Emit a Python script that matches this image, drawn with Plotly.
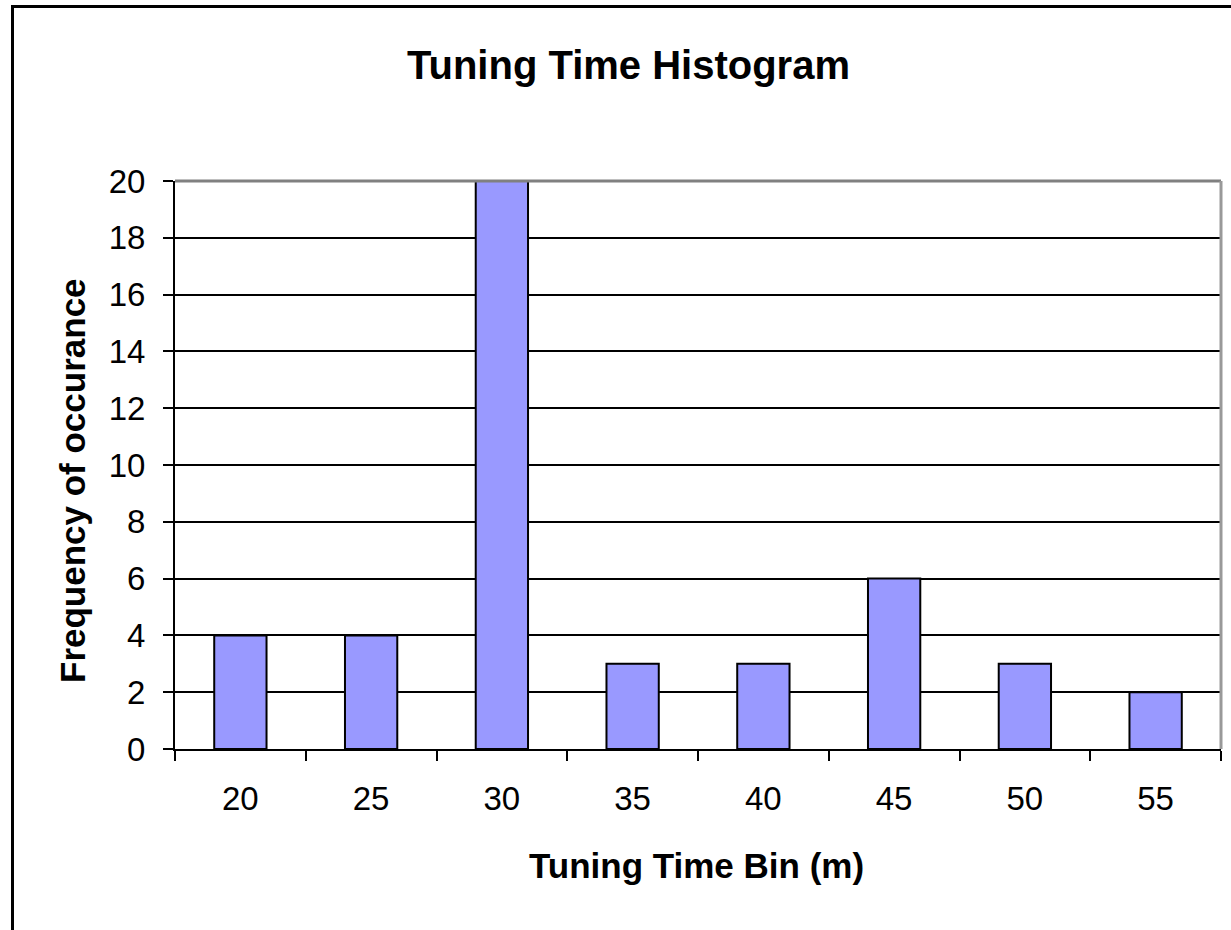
import plotly.graph_objects as go

bins = ["20", "25", "30", "35", "40", "45", "50", "55"]
freq = [4, 4, 20, 3, 3, 6, 3, 2]
y_ticks = [0, 2, 4, 6, 8, 10, 12, 14, 16, 18, 20]

W, H = 1231, 930
L, R, T, B = 175, 1221, 181, 749
FONT = "Liberation Sans, Arial, sans-serif"

def px_x(px):
    return (px - L) / (R - L)

def px_y(py):
    return (B - py) / (B - T)

fig = go.Figure(
    go.Bar(
        x=bins,
        y=freq,
        marker=dict(color="#9999FF", line=dict(color="black", width=2)),
    )
)

fig.update_layout(
    width=W,
    height=H,
    margin=dict(l=L, r=W - R, t=T, b=H - B),
    paper_bgcolor="white",
    plot_bgcolor="white",
    bargap=0.6,
    showlegend=False,
    font=dict(family=FONT, color="black"),
)

fig.update_xaxes(
    type="category",
    tickson="boundaries",
    ticks="outside",
    ticklen=10,
    tickwidth=2,
    tickcolor="black",
    showline=True,
    linecolor="black",
    linewidth=2,
    showgrid=False,
    tickfont=dict(size=33, family=FONT, color="black"),
    ticklabelstandoff=19,
)

fig.update_yaxes(
    range=[0, 20],
    tickvals=y_ticks,
    ticks="outside",
    ticklen=10,
    tickwidth=2,
    tickcolor="black",
    showline=True,
    linecolor="black",
    linewidth=2,
    showgrid=True,
    gridcolor="black",
    gridwidth=2,
    zeroline=False,
    tickfont=dict(size=33, family=FONT, color="black"),
    ticklabelstandoff=11,
)

shapes = [
    # plot area top and right borders (gray)
    dict(type="line", xref="paper", yref="paper", x0=0, x1=1, y0=1, y1=1,
         line=dict(color="#808080", width=3)),
    dict(type="line", xref="paper", yref="paper", x0=1, x1=1, y0=0, y1=1,
         line=dict(color="#999999", width=3)),
    # outer chart border
    dict(type="rect", xref="paper", yref="paper",
         x0=px_x(12.5), x1=px_x(1260), y0=px_y(6.5), y1=px_y(960),
         line=dict(color="black", width=3), fillcolor="rgba(0,0,0,0)", layer="above"),
]
fig.update_layout(shapes=shapes)

annotations = [
    dict(text="<b>Tuning Time Histogram</b>", xref="paper", yref="paper",
         x=px_x(628), y=px_y(65), xanchor="center", yanchor="middle",
         showarrow=False, font=dict(size=40, family=FONT, color="black")),
    dict(text="<b>Tuning Time Bin (m)</b>", xref="paper", yref="paper",
         x=px_x(696), y=px_y(865), xanchor="center", yanchor="middle",
         showarrow=False, font=dict(size=35, family=FONT, color="black")),
    dict(text="<b>Frequency of occurance</b>", xref="paper", yref="paper",
         x=px_x(72), y=px_y(481), xanchor="center", yanchor="middle", textangle=-90,
         showarrow=False, font=dict(size=35, family=FONT, color="black")),
]
fig.update_layout(annotations=annotations)

fig.write_html("out.html")
